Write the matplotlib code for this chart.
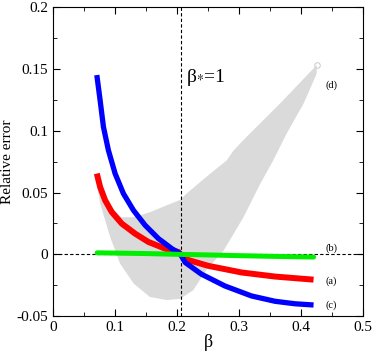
import matplotlib
matplotlib.use("Agg")
import matplotlib.pyplot as plt
from matplotlib.ticker import MultipleLocator

plt.rcParams["font.family"] = ["Liberation Serif", "DejaVu Serif"]
plt.rcParams["mathtext.fontset"] = "stix"

# curve (a), red
beta_a = [0.0705, 0.0758, 0.0839, 0.0946, 0.1108, 0.1323, 0.1537, 0.1806, 0.2021,
          0.213, 0.25, 0.304, 0.358, 0.42]
err_a = [0.0653, 0.0545, 0.0437, 0.0342, 0.0248, 0.0167, 0.0100, 0.0046, 0.0019,
         -0.0039, -0.0093, -0.0147, -0.018, -0.0205]
# curve (b), green
beta_b = [0.071, 0.10, 0.15, 0.20, 0.25, 0.30, 0.35, 0.42]
err_b = [0.0012, 0.0010, 0.0006, 0.0, -0.0005, -0.0011, -0.0016, -0.0022]
# curve (c), blue
beta_c = [0.0705, 0.0758, 0.0812, 0.0892, 0.100, 0.1134, 0.1296, 0.1484, 0.1699,
          0.1914, 0.2048, 0.213, 0.239, 0.277, 0.32, 0.358, 0.39, 0.42]
err_c = [0.145, 0.1246, 0.103, 0.0841, 0.0653, 0.0491, 0.0356, 0.0235, 0.0127,
         0.0046, 0.0006, -0.0066, -0.016, -0.0256, -0.0337, -0.038, -0.040, -0.041]
# band (d), grey: upper and lower edges
beta_d_hi = [0.071, 0.09, 0.11, 0.13, 0.156, 0.18, 0.205, 0.215, 0.248, 0.28,
             0.291, 0.312, 0.366, 0.425]
err_d_hi = [0.058, 0.040, 0.030, 0.030, 0.034, 0.039, 0.044, 0.049, 0.063, 0.076,
            0.084, 0.095, 0.122, 0.153]
beta_d_lo = [0.071, 0.076, 0.092, 0.108, 0.13, 0.156, 0.183, 0.205, 0.226, 0.248,
             0.275, 0.307, 0.334, 0.355, 0.377, 0.404, 0.425]
err_d_lo = [0.055, 0.041, 0.014, -0.0075, -0.0237, -0.0345, -0.037, -0.036, -0.029,
            -0.012, 0.003, 0.030, 0.057, 0.076, 0.098, 0.122, 0.146]

beta_star = 0.207

fig = plt.figure(figsize=(3.74, 3.54), dpi=100)
ax = fig.add_axes([0.142, 0.107, 0.829, 0.873])

ax.fill(beta_d_hi + beta_d_lo[::-1], err_d_hi + err_d_lo[::-1],
        color="#dadada", linewidth=0)
ax.plot([beta_d_hi[-1]], [err_d_hi[-1]], "o", mfc="none", mec="#d0d0d0", ms=4, mew=0.8)

ax.axhline(0, color="black", ls=(0, (3, 2)), lw=0.8)
ax.axvline(beta_star, color="black", ls=(0, (3, 2)), lw=0.8)

ax.plot(beta_a, err_a, color="#ff0000", lw=4.3, solid_capstyle="butt")
ax.plot(beta_c, err_c, color="#0000ff", lw=3.8, solid_capstyle="butt")
ax.plot(beta_b, err_b, color="#00ee00", lw=3.6, solid_capstyle="round")

ax.text(0.214, 0.139, "β$_{*}$=1", fontsize=14)
ax.text(0.44, 0.135, "(d)", fontsize=7.5)
ax.text(0.44, 0.003, "(b)", fontsize=7.5)
ax.text(0.44, -0.0235, "(a)", fontsize=7.5)
ax.text(0.44, -0.0435, "(c)", fontsize=7.5)

ax.set_xlim(0, 0.5)
ax.set_ylim(-0.05, 0.2)
ax.xaxis.set_minor_locator(MultipleLocator(0.05))
ax.yaxis.set_minor_locator(MultipleLocator(0.025))
ax.set_xticks([0, 0.1, 0.2, 0.3, 0.4, 0.5])
ax.set_xticklabels(["0", "0.1", "0.2", "0.3", "0.4", "0.5"])
ax.set_yticks([-0.05, 0, 0.05, 0.1, 0.15, 0.2])
ax.set_yticklabels(["-0.05", "0", "0.05", "0.1", "0.15", "0.2"])
ax.tick_params(which="both", direction="in", top=True, right=True, labelsize=11)
ax.tick_params(which="major", length=5)
ax.tick_params(which="minor", length=3)
ax.set_xlabel("β", fontsize=13, labelpad=0)
ax.set_ylabel("Relative error", fontsize=11, labelpad=2)

fig.savefig("out.png", dpi=100)
